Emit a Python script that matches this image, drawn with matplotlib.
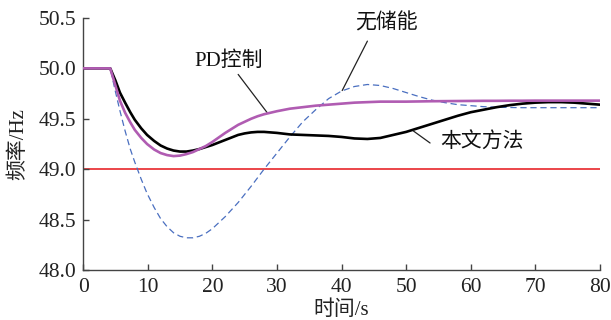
import matplotlib
matplotlib.use("Agg")
import matplotlib.pyplot as plt

plt.rcParams['font.family'] = ['Liberation Serif', 'Noto Sans CJK SC', 'DejaVu Sans']
plt.rcParams['axes.unicode_minus'] = False

# Time axis (s)
t = [0, 4.2, 5, 5.7, 6.5, 7.3, 8, 9, 9.9, 11, 12, 13, 14, 15, 16, 17, 18, 19, 20,
     21, 22, 23, 24, 25, 26, 27, 28, 30, 32, 34, 36, 38, 40, 42, 44, 46, 48, 50,
     52, 54, 56, 58, 60, 62, 64, 66, 68, 70, 72, 74, 76, 78, 80]

# Frequency with the proposed method (Hz)
f_method = [50, 50, 49.88, 49.76, 49.66, 49.565, 49.49, 49.405, 49.34, 49.28, 49.235,
            49.205, 49.185, 49.175, 49.175, 49.185, 49.20, 49.22, 49.24,
            49.265, 49.29, 49.315, 49.34, 49.355, 49.365, 49.37, 49.37, 49.36,
            49.345, 49.34, 49.335, 49.33, 49.32,
            49.305, 49.30, 49.31, 49.34, 49.37, 49.41, 49.45, 49.49, 49.53,
            49.565, 49.59, 49.615, 49.635, 49.65, 49.66, 49.665, 49.665, 49.66, 49.65, 49.64]

# Frequency with PD control (Hz)
f_pd = [50, 50, 49.83, 49.68, 49.56, 49.465, 49.39, 49.31, 49.25, 49.195, 49.16,
        49.14, 49.13, 49.135, 49.15, 49.17, 49.20, 49.23, 49.27,
        49.315, 49.36, 49.40, 49.44, 49.47, 49.50, 49.525, 49.545, 49.575,
        49.60, 49.615, 49.63, 49.64, 49.65,
        49.66, 49.665, 49.67, 49.67, 49.67, 49.672, 49.674, 49.675, 49.676,
        49.677, 49.678, 49.678, 49.679, 49.679, 49.68, 49.68, 49.68, 49.68, 49.68, 49.68]

# Frequency without energy storage (Hz)
f_none = [50, 50, 49.77, 49.58, 49.38, 49.20, 49.07, 48.90, 48.76, 48.62, 48.51,
          48.43, 48.37, 48.335, 48.32, 48.32, 48.335, 48.365, 48.41,
          48.47, 48.53, 48.60, 48.67, 48.75, 48.83, 48.915, 49.00, 49.16,
          49.32, 49.47, 49.59, 49.70, 49.775,
          49.82, 49.84, 49.83, 49.80, 49.76, 49.72, 49.685, 49.66, 49.64,
          49.63, 49.62, 49.615, 49.612, 49.61, 49.61, 49.61, 49.61, 49.61, 49.61, 49.61]

limit = 49.0

fig = plt.figure(figsize=(6.11, 3.2), dpi=100)
ax = fig.add_axes([0.136, 0.156, 0.846, 0.788])

ax.axhline(limit, color='#e8262a', lw=1.2, zorder=1)
ax.plot(t, f_none, color='#4a6fc0', lw=0.9, ls=(0, (5, 3)), zorder=2)
ax.plot(t, f_method, color='black', lw=1.9, zorder=3)
ax.plot(t, f_pd, color='#b05cb2', lw=1.9, zorder=4)

ax.set_xlim(0, 80)
ax.set_ylim(48.0, 50.5)
ax.set_xticks(range(0, 81, 10))
ax.set_yticks([48.0, 48.5, 49.0, 49.5, 50.0, 50.5])
ax.set_yticklabels(['48.0', '48.5', '49.0', '49.5', '50.0', '50.5'])

for s in ('top', 'right'):
    ax.spines[s].set_visible(False)
for s in ('left', 'bottom'):
    ax.spines[s].set_color('#444444')
    ax.spines[s].set_linewidth(1.0)
ax.tick_params(direction='in', length=4, width=1, color='#444444',
               labelsize=15.5, labelcolor='#222222')
ax.tick_params(axis='x', pad=6)
ax.tick_params(axis='y', pad=5)

ax.set_xlabel('时间/s', fontsize=15, color='#222222', labelpad=2.5)
ax.set_ylabel('频率/Hz', fontsize=15, color='#222222', labelpad=7)

# Curve labels and their leader lines
def label(text, pos, start, end):
    ax.text(*pos, text, fontsize=15, color='#111111', ha='center', va='center')
    ax.annotate('', xy=end, xytext=start,
                arrowprops=dict(arrowstyle='-', color='#222222', lw=0.9,
                                shrinkA=0, shrinkB=0))

label('PD控制', (22.5, 50.07), (24.0, 49.94), (28.5, 49.56))
label('无储能', (46.9, 50.45), (44.0, 50.27), (40.1, 49.78))
label('本文方法', (61.8, 49.26), (53.7, 49.26), (51.1, 49.38))

fig.savefig('out.png', dpi=100)
